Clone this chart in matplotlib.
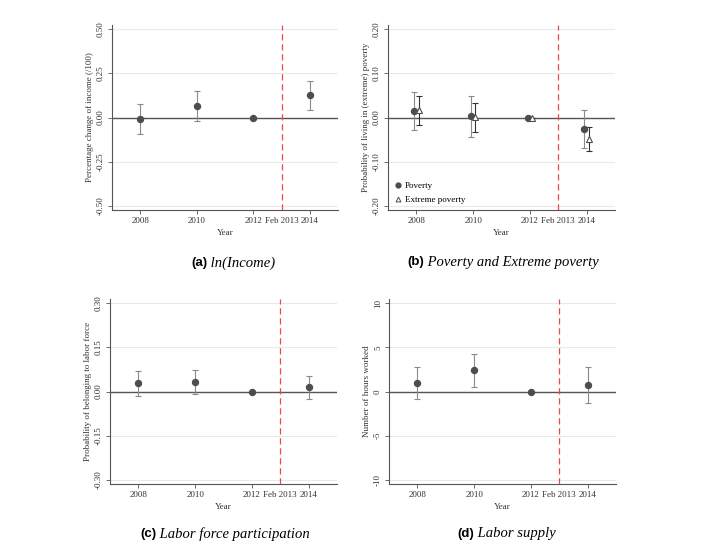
import matplotlib
matplotlib.use("Agg")
import matplotlib.pyplot as plt
from matplotlib.lines import Line2D

# anos del estudio
years = [2008, 2010, 2012, 2014]
TREAT = 2013  # Feb 2013

# (a) ln(Income)
inc_coef = [-0.010, 0.064, 0.0, 0.126]
inc_lo = [-0.096, -0.021, 0.0, 0.042]
inc_hi = [0.074, 0.149, 0.0, 0.209]

# (b) pobreza y pobreza extrema
pov_coef = [0.015, 0.003, 0.0, -0.026]
pov_lo = [-0.029, -0.045, 0.0, -0.070]
pov_hi = [0.057, 0.049, 0.0, 0.018]
ext_coef = [0.017, 0.001, 0.0, -0.048]
ext_lo = [-0.016, -0.032, 0.0, -0.075]
ext_hi = [0.048, 0.033, 0.0, -0.021]

# (c) participacion laboral
lab_coef = [0.029, 0.032, 0.0, 0.016]
lab_lo = [-0.014, -0.008, 0.0, -0.026]
lab_hi = [0.071, 0.073, 0.0, 0.054]

# (d) horas trabajadas
hrs_coef = [0.98, 2.42, 0.0, 0.72]
hrs_lo = [-0.83, 0.49, 0.0, -1.36]
hrs_hi = [2.79, 4.23, 0.0, 2.79]

xticks = [2008, 2010, 2012, 2013, 2014]
xticklabels = ["2008", "2010", "2012", "Feb 2013", "2014"]

SERIF = "Liberation Serif"
PT_COLOR = "#4d4d4d"
CI_COLOR = "#8a8a8a"

W, H = 704, 544


def make_ax(fig, left, right, top, bottom):
    return fig.add_axes([left / W, 1 - bottom / H, (right - left) / W, (bottom - top) / H])


def yticks_fmt(yticks):
    if all(float(v).is_integer() for v in yticks):
        return ["%d" % v for v in yticks]
    return ["%.2f" % v for v in yticks]


def style_ax(ax, yticks, ylim, ylabel):
    ax.set_xlim(2007, 2015)
    ax.set_ylim(*ylim)
    ax.set_yticks(yticks)
    ax.set_yticklabels(yticks_fmt(yticks), rotation=90, va="center",
                       fontsize=6.5, family=SERIF, color="#333333")
    ax.set_xticks(xticks)
    ax.set_xticklabels(xticklabels, fontsize=6.5, family=SERIF, color="#333333")
    ax.tick_params(length=3, width=0.6, color="#555555", pad=2)
    ax.xaxis.get_major_ticks()[3].tick1line.set_visible(False)
    for s in ["top", "right"]:
        ax.spines[s].set_visible(False)
    for s in ["left", "bottom"]:
        ax.spines[s].set_color("#555555")
        ax.spines[s].set_linewidth(0.8)
    ax.yaxis.grid(True, color="#e9e9e9", linewidth=0.8)
    ax.set_axisbelow(True)
    ax.axhline(0, color="#555555", linewidth=1.0, zorder=1)
    ax.axvline(TREAT, color="#eb4a4c", linestyle=(0, (5, 3)), linewidth=0.9, zorder=1)
    ax.set_xlabel("Year", fontsize=6.5, family=SERIF, color="#333333", labelpad=3)
    ax.set_ylabel(ylabel, fontsize=6.5, family=SERIF, color="#333333", labelpad=2)


def draw_ci(ax, x, coef, lo, hi, color, marker="o", mfc=PT_COLOR, ms=4.5, off=0.0):
    xs = [xx + off for xx in x]
    err = [[c - l for c, l in zip(coef, lo)], [h - c for c, h in zip(coef, hi)]]
    ax.errorbar(xs, coef, yerr=err, fmt="none", ecolor=color, elinewidth=0.8,
                capsize=2, capthick=0.8, zorder=2)
    ax.plot(xs, coef, linestyle="none", marker=marker, color=PT_COLOR, mfc=mfc,
            ms=ms, mew=0.8, zorder=3)


def caption(fig, cx, cy, tag, text):
    t1 = fig.text(0, 0, tag, fontsize=9.5, fontweight="bold", family="Liberation Sans")
    t2 = fig.text(0, 0, " " + text, fontsize=10.5, style="italic", family=SERIF)
    fig.canvas.draw()
    r = fig.canvas.get_renderer()
    w1 = t1.get_window_extent(r).width
    w2 = t2.get_window_extent(r).width
    x0 = cx - (w1 + w2) / 2
    t1.set_position((x0 / W, 1 - cy / H))
    t2.set_position(((x0 + w1) / W, 1 - cy / H))
    t1.set_va("center")
    t2.set_va("center")


def main():
    fig = plt.figure(figsize=(W / 100, H / 100), dpi=100)

    ax_a = make_ax(fig, 112, 338, 25, 210)
    style_ax(ax_a, [-0.5, -0.25, 0, 0.25, 0.5], (-0.525, 0.525),
             "Percentage change of income (/100)")
    draw_ci(ax_a, years, inc_coef, inc_lo, inc_hi, CI_COLOR)

    ax_b = make_ax(fig, 388, 615, 25, 210)
    style_ax(ax_b, [-0.2, -0.1, 0, 0.1, 0.2], (-0.21, 0.21),
             "Probability of living in (extreme) poverty")
    draw_ci(ax_b, years, pov_coef, pov_lo, pov_hi, CI_COLOR, off=-0.08)
    draw_ci(ax_b, years, ext_coef, ext_lo, ext_hi, "#333333", marker="^", mfc="white",
            ms=4, off=0.08)
    handles = [
        Line2D([], [], linestyle="none", marker="o", color=PT_COLOR, ms=3.5),
        Line2D([], [], linestyle="none", marker="^", color=PT_COLOR, mfc="white", ms=3.5, mew=0.7),
    ]
    ax_b.legend(handles, ["Poverty", "Extreme poverty"], loc="lower left", frameon=False,
                prop={"family": SERIF, "size": 6.5}, handlelength=0.8, handletextpad=0.4,
                borderaxespad=0.3, labelspacing=0.6)

    ax_c = make_ax(fig, 110, 337, 299, 484)
    style_ax(ax_c, [-0.3, -0.15, 0, 0.15, 0.3], (-0.315, 0.315),
             "Probability of belonging to labor force")
    draw_ci(ax_c, years, lab_coef, lab_lo, lab_hi, CI_COLOR)

    ax_d = make_ax(fig, 389, 616, 299, 484)
    style_ax(ax_d, [-10, -5, 0, 5, 10], (-10.5, 10.5), "Number of hours worked")
    draw_ci(ax_d, years, hrs_coef, hrs_lo, hrs_hi, CI_COLOR)

    caption(fig, 233, 263, "(a)", "ln(Income)")
    caption(fig, 503, 262, "(b)", "Poverty and Extreme poverty")
    caption(fig, 225, 534, "(c)", "Labor force participation")
    caption(fig, 507, 534, "(d)", "Labor supply")

    fig.savefig("out.png", dpi=100)


if __name__ == "__main__":
    main()
